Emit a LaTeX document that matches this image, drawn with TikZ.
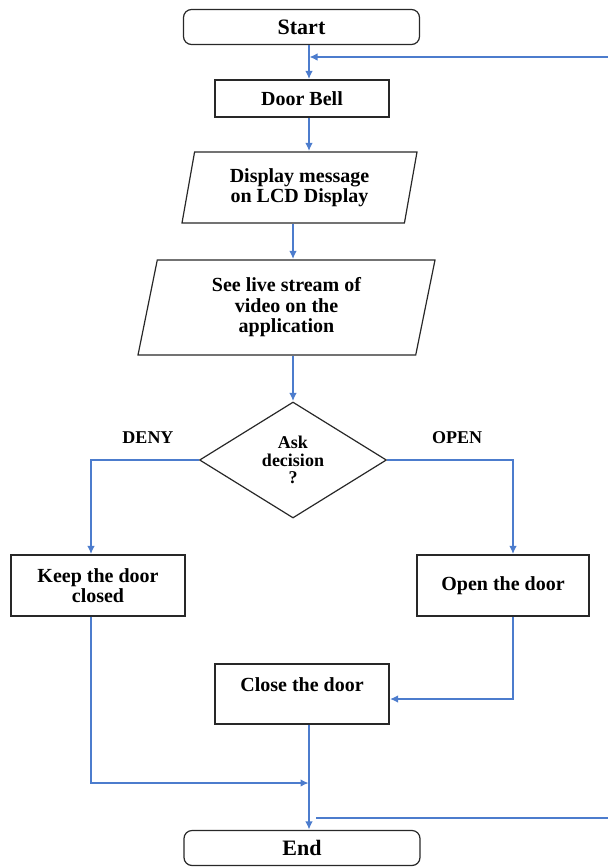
\documentclass[tikz,border=0pt]{standalone}
\usepackage{fontspec}
\setmainfont{Liberation Serif}
\usetikzlibrary{arrows.meta, shapes.geometric}
\definecolor{lineblue}{RGB}{76,124,205}
\definecolor{boxgray}{RGB}{40,40,40}

\begin{document}
\begin{tikzpicture}[x=1pt,y=-1pt,>={Latex[length=8pt,width=7.5pt]},shorten >=0.5pt,
  font=\fontsize{20}{20.5}\selectfont\bfseries,
  flow/.style={->,draw=lineblue,line width=1.2pt},
  terminal/.style={draw=boxgray,line width=1.2pt,rounded corners=8pt,minimum width=236pt,minimum height=35pt,font=\fontsize{22}{24}\selectfont\bfseries},
  process/.style={draw=boxgray,rectangle,line width=1.2pt,align=center,inner sep=0pt},
  io/.style={draw=boxgray,trapezium,trapezium left angle=72,trapezium right angle=108,trapezium stretches body,line width=1.2pt,align=center,inner sep=0pt},
  decision/.style={draw=boxgray,diamond,aspect=1.6,line width=1.2pt,align=center,inner sep=0pt,minimum width=187pt,minimum height=116pt,font=\fontsize{18}{17.5}\selectfont\bfseries},
  answer/.style={font=\fontsize{18}{20}\selectfont\bfseries}]
  \useasboundingbox (0,0) rectangle (608,868);
  \node[terminal] (start) at (301.5,27) {Start};
  \node[process,minimum width=174pt,minimum height=37pt] (bell) at (302,98.5) {Door Bell};
  \node[io,minimum width=235pt,minimum height=71pt] (lcd) at (299.5,187.5) {Display message\\on LCD Display};
  \node[io,minimum width=297pt,minimum height=95pt] (stream) at (286.5,307.5) {See live stream of\\video on the\\application};
  \node[decision] (ask) at (293,460) {Ask\\decision\\?};
  \node[answer] (deny) at (148,438) {DENY};
  \node[answer] (openlbl) at (457,438) {OPEN};
  \node[process,minimum width=174pt,minimum height=61pt] (keep) at (98,585.5) {Keep the door\\closed};
  \node[process,minimum width=172pt,minimum height=61pt] (open) at (503,585.5) {Open the door};
  \node[process,minimum width=174pt,minimum height=60pt,text depth=18pt] (close) at (302,694) {Close the door};
  \node[terminal] (end) at (302,848) {End};

  % turning points of the connectors
  \coordinate (topjoin) at (309,57);
  \coordinate (loopin) at (608,57);
  \coordinate (denyturn) at (91,460);
  \coordinate (openturn) at (513,460);
  \coordinate (merge) at (309,783);
  \coordinate (loopstart) at (316,818);
  \coordinate (loopout) at (608,818);

  \draw[flow] (start.south -| topjoin) -- (bell.north -| topjoin);
  \draw[flow] (loopin) -- (topjoin);
  \draw[flow] (bell.south -| topjoin) -- (lcd.north -| topjoin);
  \draw[flow] (lcd.south -| ask.north) -- (stream.north -| ask.north);
  \draw[flow] (stream.south -| ask.north) -- (ask.north);
  \draw[flow] (ask.west) -- (denyturn) -- (denyturn |- keep.north);
  \draw[flow] (ask.east) -- (openturn) -- (openturn |- open.north);
  \draw[flow] (keep.south -| denyturn) |- (merge);
  \draw[flow] (open.south -| openturn) |- ([yshift=-5pt]close.east);
  \draw[flow] (close.south -| merge) -- (end.north -| merge);
  \draw[draw=lineblue,line width=1.2pt] (loopstart) -- (loopout);
\end{tikzpicture}
\end{document}
